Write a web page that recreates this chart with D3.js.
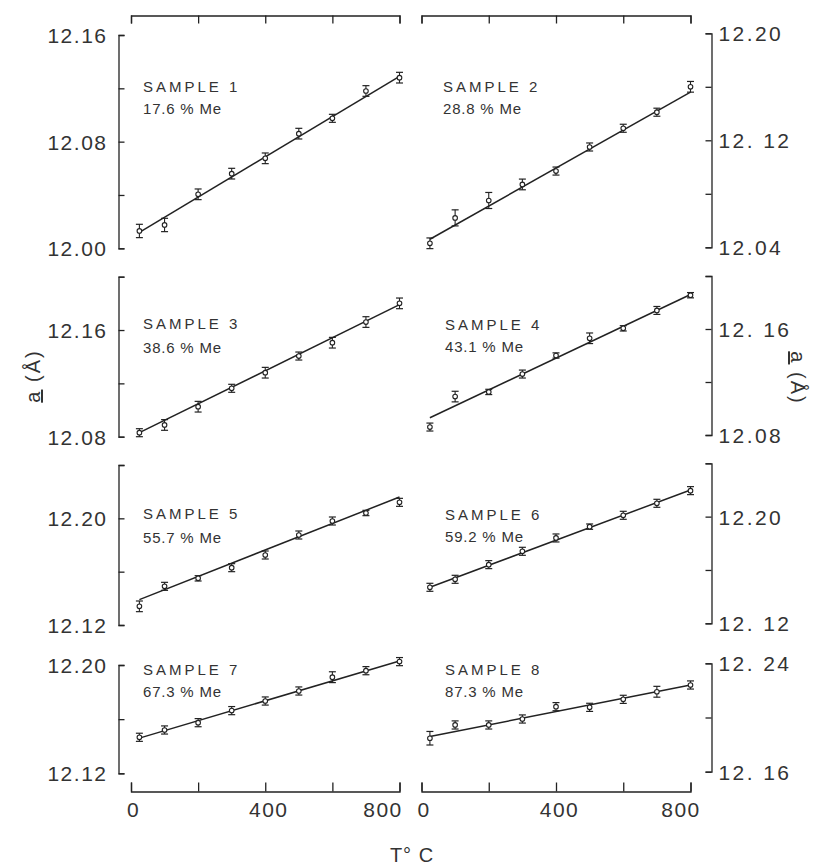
<!DOCTYPE html>
<html><head><meta charset="utf-8">
<script src="https://cdn.jsdelivr.net/npm/d3@7"></script>
<style>
body{margin:0;background:#fff;}
svg{display:block;}
text{font-family:"Liberation Sans",Arial,sans-serif;fill:#333;}
</style></head>
<body><svg id="c" width="815" height="866"></svg>
<script>
// ---------- data ----------
const temps = [25,100,200,300,400,500,600,700,800];
const sampleNames = ["SAMPLE 1","SAMPLE 2","SAMPLE 3","SAMPLE 4","SAMPLE 5","SAMPLE 6","SAMPLE 7","SAMPLE 8"];
const compositions = ["17.6 % Me","28.8 % Me","38.6 % Me","43.1 % Me","55.7 % Me","59.2 % Me","67.3 % Me","87.3 % Me"];
const s1 = [12.013,12.0175,12.0405,12.056,12.0675,12.086,12.0975,12.118,12.128];
const s2 = [12.043,12.062,12.075,12.087,12.097,12.115,12.129,12.141,12.160];
const s3 = [12.083,12.0888,12.1025,12.1163,12.128,12.1405,12.1505,12.166,12.180];
const s4 = [12.086,12.109,12.1125,12.126,12.140,12.153,12.1605,12.174,12.1855];
const s5 = [12.134,12.149,12.155,12.163,12.1725,12.1875,12.198,12.204,12.212];
const s6 = [12.147,12.153,12.164,12.174,12.184,12.1925,12.201,12.210,12.2195];
const s7 = [12.1466,12.152,12.1574,12.1663,12.1734,12.1808,12.191,12.1958,12.2025];
const s8 = [12.1847,12.1945,12.1945,12.1989,12.208,12.2075,12.2134,12.219,12.224];
const e1 = [0.005,0.005,0.004,0.004,0.004,0.004,0.003,0.004,0.004];
const e2 = [0.004,0.006,0.006,0.004,0.003,0.003,0.003,0.003,0.004];
const e3 = [0.003,0.004,0.004,0.003,0.004,0.003,0.004,0.004,0.004];
const e4 = [0.003,0.004,0.002,0.003,0.002,0.004,0.002,0.003,0.002];
const e5 = [0.004,0.003,0.002,0.003,0.003,0.003,0.003,0.002,0.003];
const e6 = [0.003,0.003,0.003,0.003,0.003,0.002,0.003,0.003,0.003];
const e7 = [0.003,0.003,0.003,0.003,0.003,0.003,0.004,0.003,0.003];
const e8 = [0.005,0.003,0.003,0.003,0.003,0.003,0.003,0.004,0.003];
const fitStart = [12.012,12.046,12.083,12.093,12.139,12.147,12.146,12.186]; // fit at 25 °C
const fitEnd   = [12.129,12.156,12.179,12.186,12.216,12.220,12.203,12.224]; // fit at 800 °C
const yDomains = [[12.00,12.16],[12.04,12.20],[12.08,12.20],[12.08,12.20],[12.12,12.24],[12.12,12.24],[12.12,12.20],[12.16,12.24]];
const yTicks = [
  [12.00,12.04,12.08,12.12,12.16],[12.04,12.08,12.12,12.16,12.20],
  [12.08,12.12,12.16,12.20],[12.08,12.12,12.16,12.20],
  [12.12,12.16,12.20,12.24],[12.12,12.16,12.20,12.24],
  [12.12,12.16,12.20],[12.16,12.20,12.24]];
const yTickLabels = [
  {"12.16":"12.16","12.08":"12.08","12.00":"12.00"},
  {"12.20":"12.20","12.12":"12. 12","12.04":"12.04"},
  {"12.16":"12.16","12.08":"12.08"},
  {"12.16":"12. 16","12.08":"12.08"},
  {"12.20":"12.20","12.12":"12.12"},
  {"12.20":"12.20","12.12":"12. 12"},
  {"12.20":"12.20","12.12":"12.12"},
  {"12.24":"12. 24","12.16":"12. 16"}];
const xTicks = [0,200,400,600,800];
const xTickLabels = {0:"0",400:"400",800:"800"};
const series = [s1,s2,s3,s4,s5,s6,s7,s8];
const errors = [e1,e2,e3,e4,e5,e6,e7,e8];

// ---------- layout ----------
const svg = d3.select("#c");
const ink = "#222";
const colX = [[131,399.5],[421.5,690.5]];
const axisX = [118.5, 711.5];
const rowsY = [ // [bottom, top] pixel for each panel's domain
  [248.3,35],[247.3,33.3],
  [436.7,276.7],[435,276],
  [625,465],[623.3,463.3],
  [773.3,665],[771.7,663.3]];
const labelPos = [[143,92,113.5],[443,92,113.5],[143,328.5,352.5],[445,330,352],[143,518.5,542.5],[445,520,542],[143,675,697],[445,675,697]];

const xScales = colX.map(r => d3.scaleLinear().domain([0,800]).range(r));

function styleAxis(g){
  g.selectAll("path,line").attr("stroke",ink).attr("stroke-width",1.3);
  g.selectAll("text").attr("fill","#333").style("font-family",'"Liberation Sans",Arial,sans-serif');
}

// top x axes
xScales.forEach(xs=>{
  const g = svg.append("g").attr("transform","translate(0,15.5)")
    .call(d3.axisTop(xs).tickValues(xTicks).tickSize(-8).tickSizeOuter(-8).tickFormat(""));
  styleAxis(g);
});
// bottom x axes
xScales.forEach((xs,ci)=>{
  const g = svg.append("g").attr("transform","translate(0,791.5)")
    .call(d3.axisBottom(xs).tickValues(xTicks).tickSize(-9).tickSizeOuter(-9)
      .tickPadding(11).tickFormat(d=>xTickLabels[d]||""));
  styleAxis(g);
  g.selectAll("text").style("font-size","21px").style("letter-spacing","1.5px")
    .attr("dx",d=>d===800?(ci===0?-17:-10):(d===0?2:3));
});

series.forEach((vals,i)=>{
  const col = i%2;
  const xs = xScales[col];
  const ys = d3.scaleLinear().domain(yDomains[i]).range(rowsY[i]);
  const labs = yTickLabels[i];
  const ax = col===0
    ? d3.axisLeft(ys).tickValues(yTicks[i]).tickSize(-6).tickSizeOuter(-6).tickPadding(11)
    : d3.axisRight(ys).tickValues(yTicks[i]).tickSize(-6).tickSizeOuter(-6).tickPadding(7);
  ax.tickFormat(d=>labs[d.toFixed(2)]||"");
  const g = svg.append("g").attr("transform",`translate(${axisX[col]},0)`).call(ax);
  styleAxis(g);
  g.selectAll("text").style("font-size","21px").attr("dy","0.36em")
    .style("letter-spacing", col===0 ? "1.5px" : "2.4px");

  const pg = svg.append("g");
  // fit line
  pg.append("line")
    .attr("x1",xs(temps[0])).attr("y1",ys(fitStart[i]))
    .attr("x2",xs(temps[temps.length-1])).attr("y2",ys(fitEnd[i]))
    .attr("stroke",ink).attr("stroke-width",1.5);
  const pts = temps.map((t,j)=>({t,v:vals[j],e:errors[i][j]}));
  const eg = pg.selectAll("g.pt").data(pts).join("g").attr("class","pt");
  eg.append("line").attr("x1",d=>xs(d.t)).attr("x2",d=>xs(d.t))
    .attr("y1",d=>ys(d.v-d.e)).attr("y2",d=>ys(d.v+d.e)).attr("stroke",ink).attr("stroke-width",1.1);
  eg.append("line").attr("x1",d=>xs(d.t)-3.5).attr("x2",d=>xs(d.t)+3.5)
    .attr("y1",d=>ys(d.v+d.e)).attr("y2",d=>ys(d.v+d.e)).attr("stroke",ink).attr("stroke-width",1.2);
  eg.append("line").attr("x1",d=>xs(d.t)-3.5).attr("x2",d=>xs(d.t)+3.5)
    .attr("y1",d=>ys(d.v-d.e)).attr("y2",d=>ys(d.v-d.e)).attr("stroke",ink).attr("stroke-width",1.2);
  eg.append("circle").attr("cx",d=>xs(d.t)).attr("cy",d=>ys(d.v)).attr("r",2.3)
    .attr("fill","#fff").attr("stroke",ink).attr("stroke-width",1.1);

  const lp = labelPos[i];
  svg.append("text").attr("x",lp[0]).attr("y",lp[1]).style("font-size","15px")
    .style("letter-spacing","3px").text(sampleNames[i]);
  svg.append("text").attr("x",lp[0]).attr("y",lp[2]).style("font-size","15px")
    .style("letter-spacing","0.8px").text(compositions[i]);
});

// axis titles
function yTitle(x,y,rot){
  const t = svg.append("text").attr("transform",`translate(${x},${y}) rotate(${rot})`)
    .attr("text-anchor","middle").style("font-size","20px").style("letter-spacing","2px");
  t.append("tspan").attr("text-decoration","underline").style("text-decoration","underline").text("a");
  t.append("tspan").text(" (Å)");
}
yTitle(40,376,-90);
yTitle(791,378,90);
svg.append("text").attr("x",412).attr("y",862).attr("text-anchor","middle")
  .style("font-size","20px").style("letter-spacing","1px").text("T° C");
</script></body></html>
